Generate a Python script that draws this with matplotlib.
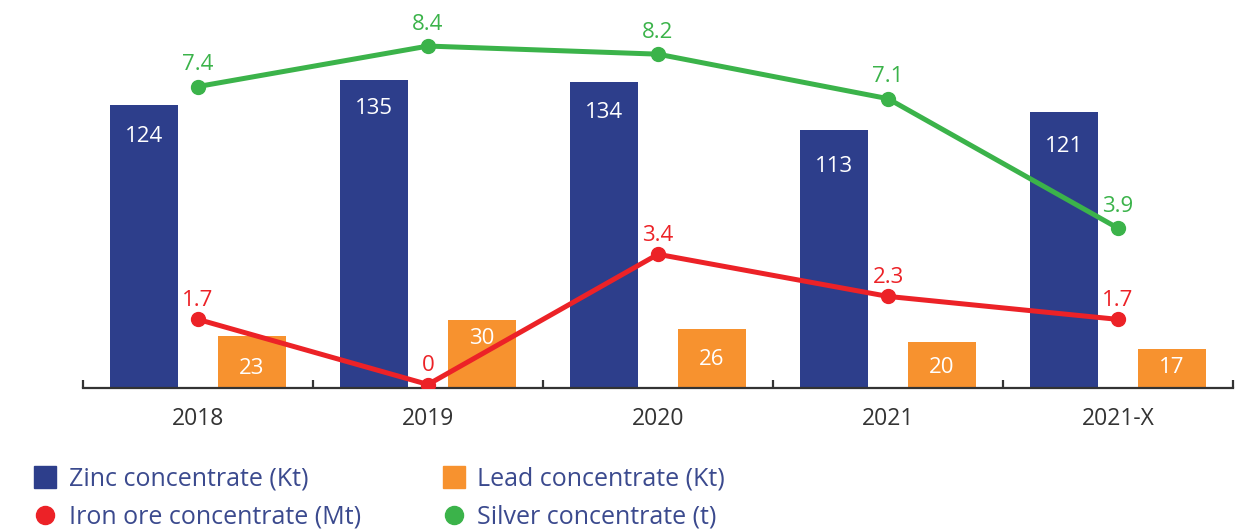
import matplotlib
matplotlib.use("Agg")
import matplotlib.pyplot as plt
from matplotlib.lines import Line2D
import numpy as np

# --- DATA ---
years = ["2018", "2019", "2020", "2021", "2021-X"]
zinc = [124, 135, 134, 113, 121]
lead = [23, 30, 26, 20, 17]
iron = [1.7, 0, 3.4, 2.3, 1.7]
silver = [7.4, 8.4, 8.2, 7.1, 3.9]

# --- STYLE ---
ZINC_C = "#2d3e8b"
LEAD_C = "#f7922f"
IRON_C = "#ec2227"
SILVER_C = "#3bb34a"
TEXT_C = "#333333"
LEGEND_C = "#3b4a8e"
plt.rcParams['font.family'] = ['Open Sans', 'DejaVu Sans']

# label offsets (pixels below the bar top)
zinc_lbl_off = [-31, -28, -30, -36, -34]
lead_lbl_off = [-33, -19, -31, -25, -18]

W, H = 1251, 530
fig = plt.figure(figsize=(W / 100, H / 100), dpi=100)
# axes spans from x=83 to 1233 px, y from 10 to 388 px (top-down)
ax = fig.add_axes([83 / W, (H - 388) / H, 1150 / W, 378 / H])
ax_iron = ax.twinx()
ax_silver = ax.twinx()

x = np.arange(len(years))
bw = 0.296
off = 0.235

ax.bar(x - off, zinc, bw, color=ZINC_C, zorder=2)
ax.bar(x + off, lead, bw, color=LEAD_C, zorder=2)
ax.set_ylim(0, 378 / 2.28)
ax.set_xlim(-0.5, len(years) - 0.5)

# secondary scales for the two lines
ax_iron.plot(x, iron, color=IRON_C, lw=3.6, marker="o", ms=10, zorder=3)
ax_iron.set_ylim(-3.5 / 38.3, 374.5 / 38.3)
for xi, v in zip(x, iron):
    ax_iron.annotate(f"{v:g}", (xi, v), xytext=(0, 19), textcoords="offset pixels",
                     ha="center", va="center", color=IRON_C, fontsize=16)

ax_silver.plot(x, silver, color=SILVER_C, lw=3.6, marker="o", ms=10, zorder=3)
ax_silver.set_ylim(-2 / 40.9, 380 / 40.9)
for xi, v in zip(x, silver):
    ax_silver.annotate(f"{v:g}", (xi, v), xytext=(0, 22), textcoords="offset pixels",
                       ha="center", va="center", color=SILVER_C, fontsize=16)

# bar value labels drawn on the top axes so they sit above the lines
for xi, v, o in zip(x, zinc, zinc_lbl_off):
    ax_silver.annotate(str(v), (xi - off, v), xycoords=ax.transData,
                       xytext=(0, o), textcoords="offset pixels",
                       ha="center", va="center", color="white", fontsize=16, zorder=5)
for xi, v, o in zip(x, lead, lead_lbl_off):
    ax_silver.annotate(str(v), (xi + off, v), xycoords=ax.transData,
                       xytext=(0, o), textcoords="offset pixels",
                       ha="center", va="center", color="white", fontsize=16, zorder=5)

for a in (ax, ax_iron, ax_silver):
    for s in ("top", "right", "left"):
        a.spines[s].set_visible(False)
    a.set_yticks([])
    a.patch.set_visible(False)
for a in (ax_iron, ax_silver):
    a.spines["bottom"].set_visible(False)

ax.spines["bottom"].set_color(TEXT_C)
ax.spines["bottom"].set_linewidth(1.6)
ax.set_xticks(np.arange(-0.5, len(years), 1.0))
ax.tick_params(axis="x", which="major", direction="in", length=6, width=1.6,
               color=TEXT_C, labelbottom=False)
ax.set_xticks(x, minor=True)
ax.set_xticklabels(years, minor=True)
ax.tick_params(axis="x", which="minor", length=0, pad=14, labelsize=16.5,
               labelcolor=TEXT_C)

# --- LEGEND ---
handles = [
    Line2D([], [], ls="none", marker="s", ms=16, color=ZINC_C, label="Zinc concentrate (Kt)"),
    Line2D([], [], ls="none", marker="o", ms=13, color=IRON_C, label="Iron ore concentrate (Mt)"),
    Line2D([], [], ls="none", marker="s", ms=16, color=LEAD_C, label="Lead concentrate (Kt)"),
    Line2D([], [], ls="none", marker="o", ms=13, color=SILVER_C, label="Silver concentrate (t)"),
]
leg = fig.legend(handles=handles, ncol=2, loc="upper left",
                 bbox_to_anchor=(24 / W, 1 - 457 / H), frameon=False,
                 fontsize=18, handlelength=0.9, handletextpad=0.5,
                 columnspacing=3.25, labelspacing=0.5, borderaxespad=0)
for t in leg.get_texts():
    t.set_color(LEGEND_C)

fig.savefig("out.png", dpi=100)
